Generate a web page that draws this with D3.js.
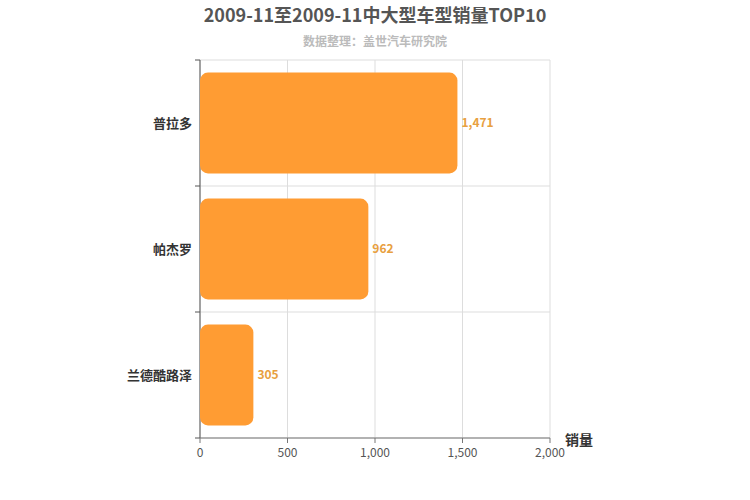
<!DOCTYPE html>
<html><head><meta charset="utf-8">
<script src="https://cdn.jsdelivr.net/npm/d3@7"></script>
<style>body{margin:0;background:#fff;font-family:"Noto Sans CJK SC","DejaVu Sans",sans-serif;}</style>
</head><body><svg id="c" width="750" height="500"></svg>
<script>
const categories = ["普拉多","帕杰罗","兰德酷路泽"];
const values = [1471, 962, 305];
const xTicks = [0, 500, 1000, 1500, 2000];

const svg = d3.select("#c");
const m = {l:200, r:550, t:60, b:438};
const x = d3.scaleLinear().domain([0,2000]).range([m.l, m.r]);
const y = d3.scaleBand().domain(categories).range([m.t, m.b]).paddingInner(0.2).paddingOuter(0.1);
const f = d3.format(",");

svg.append("text").attr("x",375).attr("y",22).attr("text-anchor","middle")
  .attr("font-size",18).attr("font-weight","bold").attr("fill","#555")
  .text("2009-11至2009-11中大型车型销量TOP10");
svg.append("text").attr("x",375).attr("y",46).attr("text-anchor","middle")
  .attr("font-size",12).attr("font-weight","bold").attr("fill","#bbb").text("数据整理：盖世汽车研究院");

const g = svg.append("g");
xTicks.forEach(t=>{
  g.append("line").attr("x1",x(t)).attr("x2",x(t)).attr("y1",m.t).attr("y2",m.b).attr("stroke","#ddd");
});
const bounds = [m.t, ...categories.map((c,i)=> i<categories.length-1 ? (y(c)+y.bandwidth()+y(categories[i+1]))/2 : m.b)];
bounds.forEach(b=>{
  g.append("line").attr("x1",m.l).attr("x2",m.r).attr("y1",b).attr("y2",b).attr("stroke","#ddd");
  g.append("line").attr("x1",m.l-5).attr("x2",m.l).attr("y1",b).attr("y2",b).attr("stroke","#555");
});
g.append("line").attr("x1",m.l).attr("x2",m.l).attr("y1",m.t).attr("y2",m.b).attr("stroke","#555");
g.append("line").attr("x1",m.l).attr("x2",m.r).attr("y1",m.b).attr("y2",m.b).attr("stroke","#777");
xTicks.forEach(t=>{
  g.append("line").attr("x1",x(t)).attr("x2",x(t)).attr("y1",m.b).attr("y2",m.b+5).attr("stroke","#777");
  g.append("text").attr("x",x(t)).attr("y",m.b+19).attr("text-anchor","middle").attr("font-size",12).attr("fill","#555").text(f(t));
});
categories.forEach((c,i)=>{
  g.append("rect").attr("x",x(0)).attr("y",y(c)).attr("width",x(values[i])-x(0)).attr("height",y.bandwidth())
   .attr("rx",8).attr("fill","#ff9c33");
  g.append("text").attr("x",x(values[i])+4).attr("y",y(c)+y.bandwidth()/2+4).attr("font-size",12)
   .attr("font-weight","bold").attr("fill","#e8a040").text(f(values[i]));
  g.append("text").attr("x",m.l-8).attr("y",y(c)+y.bandwidth()/2+5).attr("text-anchor","end").attr("font-size",13)
   .attr("font-weight","bold").attr("fill","#333").text(c);
});
svg.append("text").attr("x",565).attr("y",445).attr("font-size",14).attr("font-weight","bold").attr("fill","#333").text("销量");
</script></body></html>
